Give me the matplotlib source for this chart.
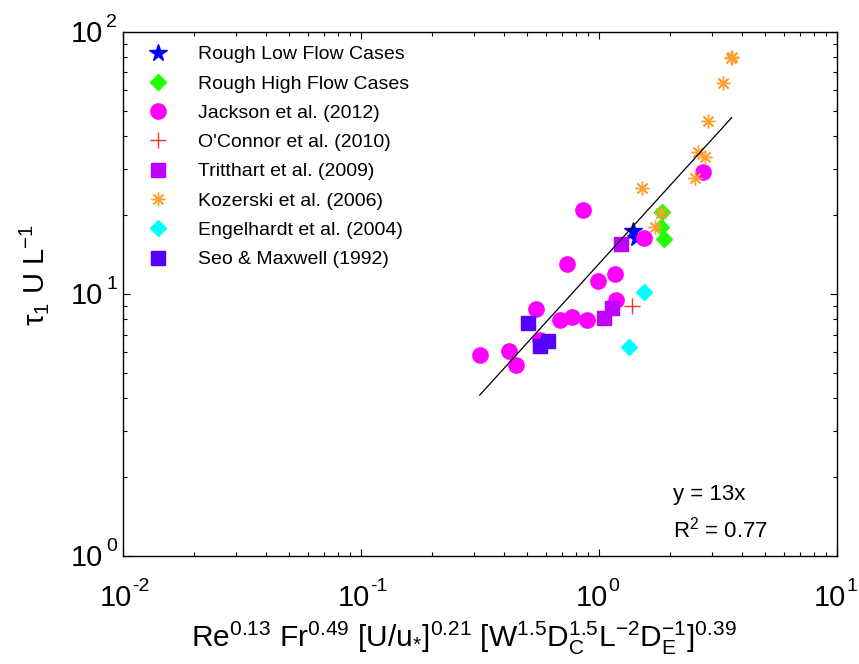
import numpy as np
import matplotlib
matplotlib.use("Agg")
import matplotlib.pyplot as plt
from matplotlib.ticker import LogLocator, NullFormatter
from matplotlib.transforms import ScaledTranslation

plt.rcParams['font.family'] = ['Liberation Sans', 'DejaVu Sans']
plt.rcParams['mathtext.fontset'] = 'custom'
plt.rcParams['mathtext.rm'] = 'Liberation Sans'
plt.rcParams['mathtext.it'] = 'Liberation Sans:italic'
plt.rcParams['mathtext.default'] = 'regular'

# ---- data: (scaling parameter, tau1 U / L) per study ----
rough_low_x = [1.398, 1.439]
rough_low_y = [17.4, 16.36]

rough_high_x = [1.846, 1.82, 1.875]
rough_high_y = [20.6, 17.97, 16.2]

jackson_x = [0.316, 0.420, 0.447, 0.543, 0.568, 0.685, 0.772, 0.893,
             0.736, 0.859, 0.993, 1.167, 1.18, 1.551, 2.73]
jackson_y = [5.87, 6.04, 5.36, 8.79, 6.67, 7.96, 8.19, 7.96,
             12.98, 20.9, 11.2, 11.92, 9.49, 16.4, 29.1]

oconnor_x = [1.385]
oconnor_y = [9.0]

tritthart_x = [1.236, 1.141, 1.056]
tritthart_y = [15.56, 8.84, 8.10]

kozerski_x = [3.60, 3.62, 3.33, 2.87, 2.61, 2.81, 2.53, 1.521, 1.825, 1.730]
kozerski_y = [79.4, 80.0, 63.7, 45.5, 34.9, 33.2, 27.7, 25.4, 20.3, 17.94]

engelhardt_x = [1.545, 1.341]
engelhardt_y = [10.2, 6.29]

seo_x = [0.506, 0.568, 0.612]
seo_y = [7.75, 6.33, 6.62]

fit_coef = 13.0
fit_r2 = 0.77

x_decades = [-2, -1, 0, 1]
y_decades = [0, 1, 2]

fig = plt.figure(figsize=(8.59, 6.64), dpi=100)
ax = fig.add_axes([0.143, 0.1627, 0.831, 0.7893])

ax.plot(rough_low_x, rough_low_y, ls='none', marker='*', ms=13, color='#0000FF',
        mec='#0000FF', label='Rough Low Flow Cases')
ax.plot(rough_high_x, rough_high_y, ls='none', marker='D', ms=8, color='#22FF00',
        mec='#22FF00', label='Rough High Flow Cases')
ax.plot(jackson_x, jackson_y, ls='none', marker='o', ms=11, color='#FF00FF',
        mec='#FF00FF', label='Jackson et al. (2012)')
ax.plot(oconnor_x, oconnor_y, ls='none', marker='+', ms=11, mew=1.0, color='#FF3030',
        label="O'Connor et al. (2010)")
ax.plot(tritthart_x, tritthart_y, ls='none', marker='s', ms=10, color='#BF00FF',
        mec='#BF00FF', label='Tritthart et al. (2009)')
ax.plot(kozerski_x, kozerski_y, ls='none', marker=(8, 2, 0), ms=10, mew=1.0,
        color='#FFA030', label='Kozerski et al. (2006)')
ax.plot(engelhardt_x, engelhardt_y, ls='none', marker='D', ms=8, color='#00FFFF',
        mec='#00FFFF', label='Engelhardt et al. (2004)')
ax.plot(seo_x, seo_y, ls='none', marker='s', ms=10, color='#5500FF',
        mec='#5500FF', label='Seo & Maxwell (1992)')

# fitted line over the range of the data
all_x = np.concatenate([rough_low_x, rough_high_x, jackson_x, oconnor_x,
                        tritthart_x, kozerski_x, engelhardt_x, seo_x])
xf = np.array([all_x.min(), all_x.max()])
ax.plot(xf, fit_coef * xf, color='black', lw=0.9)

ax.set_xscale('log')
ax.set_yscale('log')
ax.set_xlim(10.0 ** x_decades[0], 10.0 ** x_decades[-1])
ax.set_ylim(10.0 ** y_decades[0], 10.0 ** y_decades[-1])

ax.xaxis.set_major_locator(LogLocator(base=10, numticks=10))
ax.yaxis.set_major_locator(LogLocator(base=10, numticks=10))
ax.xaxis.set_minor_locator(LogLocator(base=10, subs=np.arange(2, 10), numticks=20))
ax.yaxis.set_minor_locator(LogLocator(base=10, subs=np.arange(2, 10), numticks=20))
ax.xaxis.set_minor_formatter(NullFormatter())
ax.yaxis.set_minor_formatter(NullFormatter())

ax.tick_params(which='both', direction='in', top=True, right=True, width=0.8,
               labelbottom=False, labelleft=False)
ax.tick_params(which='major', length=5)
ax.tick_params(which='minor', length=3)
for s in ax.spines.values():
    s.set_linewidth(1.0)


def shifted(base, dx, dy):
    return base + ScaledTranslation(dx / 72.0, dy / 72.0, fig.dpi_scale_trans)


# decade labels with a raised exponent
xt = ax.get_xaxis_transform()
for e in x_decades:
    ax.text(10.0 ** e, 0, '10', transform=shifted(xt, -5.0, -36.0),
            ha='center', va='baseline', fontsize=21)
    ax.text(10.0 ** e, 0, '%d' % e, transform=shifted(xt, 7.0, -25.5),
            ha='left', va='baseline', fontsize=14)

yt = ax.get_yaxis_transform()
for e in y_decades:
    ax.text(0, 10.0 ** e, '10', transform=shifted(yt, -14.2, -7.2),
            ha='right', va='baseline', fontsize=21)
    ax.text(0, 10.0 ** e, '%d' % e, transform=shifted(yt, -11.8, 3.6),
            ha='left', va='baseline', fontsize=14)

ax.set_xlabel(r'Re$^{0.13}$ Fr$^{0.49}$ [U/u$_{*}$]$^{0.21}$ '
              r'[W$^{1.5}$D$_{C}^{1.5}$L$^{-2}$D$_{E}^{-1}$]$^{0.39}$',
              fontsize=21.5)
ax.xaxis.set_label_coords(0.478, -0.121)
ax.set_ylabel(r'$\tau_{1}$ U L$^{-1}$', fontsize=21)
ax.yaxis.set_label_coords(-0.1, 0.536)

ax.text(0.771, 0.107, 'y = %dx' % fit_coef, transform=ax.transAxes, fontsize=16)
ax.text(0.771, 0.035, r'R$^{2}$ = %.2f' % fit_r2, transform=ax.transAxes, fontsize=16)

ax.legend(loc='upper left', bbox_to_anchor=(0.0286, 0.9735), frameon=False,
          fontsize=14, numpoints=1, handlelength=1.5, handletextpad=1.3,
          labelspacing=0.6, borderaxespad=0.0, borderpad=0.0)

fig.savefig('out.png', dpi=100)
